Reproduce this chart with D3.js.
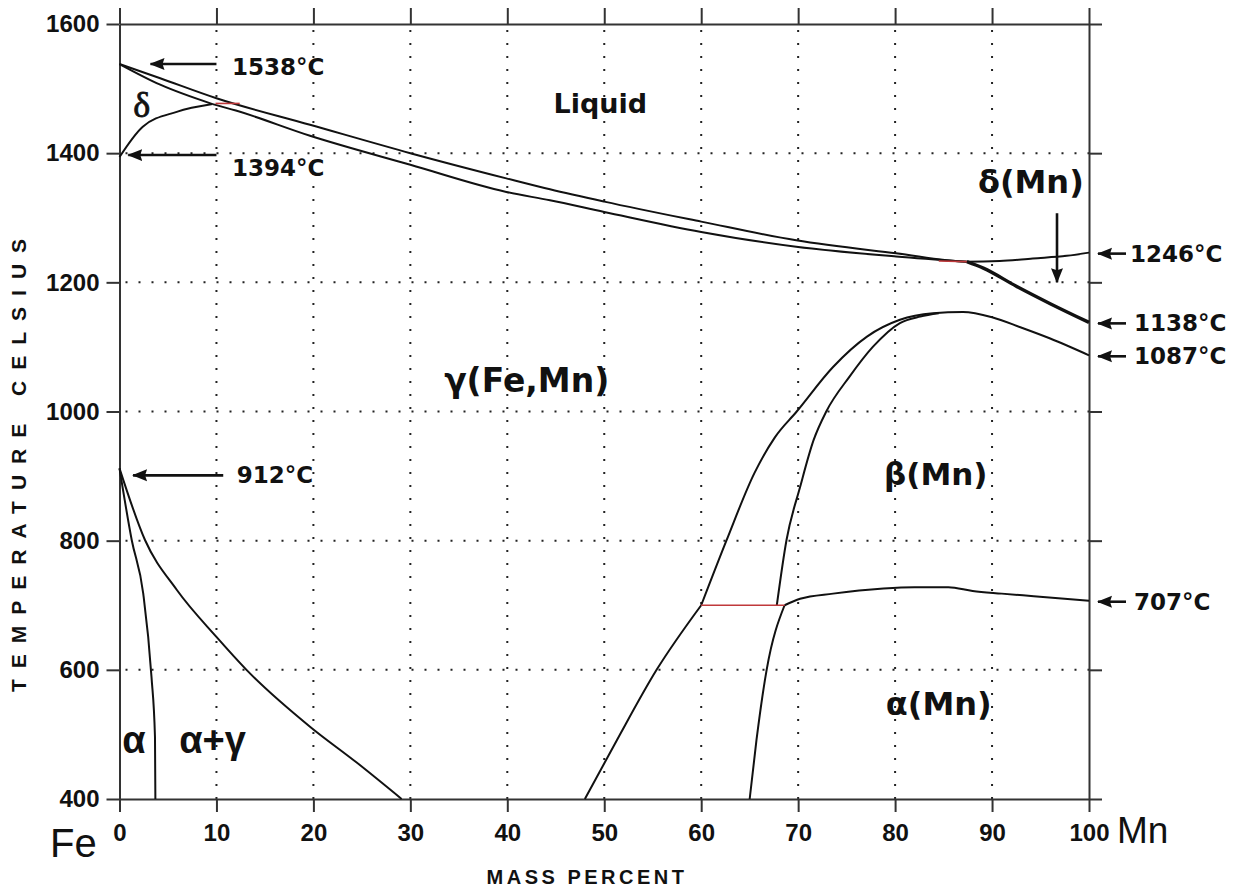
<!DOCTYPE html>
<html>
<head>
<meta charset="utf-8">
<script src="https://cdn.jsdelivr.net/npm/d3@7"></script>
<style>
  html, body { margin: 0; padding: 0; background: #fff; }
  svg { display: block; }
</style>
</head>
<body>
<svg id="chart" width="1241" height="893"></svg>
<script>
// Fe–Mn equilibrium phase diagram: [mass % Mn, temperature °C]

const xTicks = [0, 10, 20, 30, 40, 50, 60, 70, 80, 90, 100];
const yTicks = [400, 600, 800, 1000, 1200, 1400, 1600];

// liquidus, Fe side to Mn side
const liquidus = [[0,1538],[4.2,1516],[10,1485],[19.65,1444],[30,1400],[39.9,1361],[44.4,1344],[50,1325],[60,1294],[69.8,1265],[80.1,1245],[87.4,1232],[90.8,1233],[94.2,1237],[97.7,1241],[100,1246]];
// delta-Fe solidus
const deltaSolidus = [[0,1538],[4.2,1506],[9.6,1476]];
// delta / gamma boundary
const deltaGamma = [[0,1394],[2.4,1441],[5.9,1464],[9.6,1476]];
// gamma solidus
const gammaSolidus = [[9.6,1476],[12,1466],[19.65,1427],[30,1382],[39.9,1340],[44.4,1327],[50,1309],[60,1278],[69.8,1255],[80.1,1240],[87.4,1232]];
// delta-Mn solidus
const mnSolidus = [[87.4,1232],[89.1,1222],[92.5,1194],[96,1167],[100,1138]];
// gamma boundary below the eutectoid
const gammaLower = [[48,400],[51.3,491],[55.4,600],[60,700]];
// gamma / (gamma + beta) arch
const gammaArch = [[60,700],[62.6,800],[65.5,905],[67.6,960],[69.85,1000],[73.6,1069],[77.1,1116],[80.5,1142],[83.9,1152],[87,1154],[90,1146],[93,1130],[96,1113],[100,1087]];
// beta side boundary above the eutectoid
const betaArch = [[67.8,700],[68.8,801],[70.2,883],[71.6,956],[72.9,1000],[75.3,1054],[77.7,1100],[80.5,1137],[82.6,1147],[84.5,1152]];
// alpha-Mn side boundary below the eutectoid
const alphaMnLower = [[65,400],[65.7,491],[66.75,600],[68.6,700]];
// beta / alpha-Mn transition
const betaAlpha = [[68.6,700],[70.2,710],[73.6,718],[78.8,726],[82,728],[85.5,728],[88,722],[91,718],[94.3,714],[100,707]];
// alpha-Fe / (alpha + gamma)
const alphaFe = [[0,912],[1.26,801],[2.45,718],[3.3,589],[3.66,496],[3.7,400]];
// gamma / (alpha + gamma)
const gammaAlpha = [[0,912],[2.63,801],[5.9,724],[10,651],[13.1,600],[19.65,512],[24.5,456],[29.1,400]];

// invariant tie lines
const peritecticFe = [[9.9,1477],[12.4,1477]];
const eutectoid = [[60,700],[68.6,700]];
const peritecticMn = [[84.5,1233],[87.4,1232]];

// transformation temperatures of the pure elements
const leftTemps = [1538, 1394, 912];
const rightTemps = [1246, 1138, 1087, 707];

const svg = d3.select("#chart");
const x = d3.scaleLinear().domain([0, 100]).range([119.5, 1089]);
const y = d3.scaleLinear().domain([400, 1600]).range([799, 24]);

const axisColor = "#333";
const tickFont = "'Liberation Sans', Arial, sans-serif";
const labelFont = "'DejaVu Sans', Verdana, sans-serif";

// dotted grid
const grid = svg.append("g").attr("stroke", "#222").attr("stroke-width", 2).attr("stroke-dasharray", "2,11");
grid.selectAll("line.v").data(xTicks.slice(1, -1)).join("line")
  .attr("x1", d => x(d)).attr("x2", d => x(d))
  .attr("y1", y(1600) + 6).attr("y2", y(400));
grid.selectAll("line.h").data(yTicks.slice(1, -1)).join("line")
  .attr("y1", d => y(d)).attr("y2", d => y(d))
  .attr("x1", x(0) + 6).attr("x2", x(100));

// frame axes
function styleAxis(g) {
  g.selectAll("path.domain").attr("stroke", axisColor).attr("stroke-width", 2);
  g.selectAll(".tick line").attr("stroke", axisColor).attr("stroke-width", 2);
  g.selectAll(".tick text").attr("fill", "#111")
    .attr("font-family", tickFont).attr("font-weight", "bold").attr("font-size", 24);
}
svg.append("g").attr("transform", `translate(${x(0)},0)`)
  .call(d3.axisLeft(y).tickValues(yTicks).tickSize(13).tickSizeOuter(0).tickPadding(7).tickFormat(d3.format("d")))
  .call(styleAxis);
svg.append("g").attr("transform", `translate(${x(100)},0)`)
  .call(d3.axisRight(y).tickValues(yTicks).tickSize(13).tickSizeOuter(0).tickFormat(""))
  .call(styleAxis);
svg.append("g").attr("transform", `translate(0,${y(400)})`)
  .call(d3.axisBottom(x).tickValues(xTicks).tickSize(13).tickSizeOuter(0).tickPadding(12).tickFormat(d3.format("d")))
  .call(styleAxis);
svg.append("g").attr("transform", `translate(0,${y(1600)})`)
  .call(d3.axisTop(x).tickValues(xTicks).tickSize(16).tickSizeOuter(0).tickFormat(""))
  .call(styleAxis);

// phase boundaries
const line = d3.line().x(d => x(d[0])).y(d => y(d[1])).curve(d3.curveMonotoneX);
const boundaries = [liquidus, deltaSolidus, deltaGamma, gammaSolidus, gammaLower, gammaArch, betaArch, alphaMnLower, betaAlpha, alphaFe, gammaAlpha];
svg.append("g").attr("fill", "none").attr("stroke", "#111").attr("stroke-width", 2)
  .attr("stroke-linejoin", "round")
  .selectAll("path").data(boundaries).join("path").attr("d", line);
svg.append("path").datum(mnSolidus).attr("d", line)
  .attr("fill", "none").attr("stroke", "#111").attr("stroke-width", 3.4);

const straight = d3.line().x(d => x(d[0])).y(d => y(d[1]));
svg.append("g").attr("fill", "none").attr("stroke", "#c0393b").attr("stroke-width", 1.6)
  .selectAll("path").data([peritecticFe, eutectoid, peritecticMn]).join("path").attr("d", straight);

// arrow heads
svg.append("defs").append("marker")
  .attr("id", "head").attr("viewBox", "0 0 15 14").attr("refX", 14).attr("refY", 7)
  .attr("markerWidth", 15).attr("markerHeight", 14).attr("markerUnits", "userSpaceOnUse")
  .attr("orient", "auto")
  .append("path").attr("d", "M0,1 L15,7 L0,13 L2,7 Z").attr("fill", "#111");

const arrows = svg.append("g").attr("stroke", "#111").attr("stroke-width", 2.6);
const leftArrow = { 1538: [10, 3.2], 1394: [10, 0.9], 912: [10.7, 1.4] };
const leftShift = { 1538: 0, 1394: -2, 912: 7 };
leftTemps.forEach(t => {
  const [from, to] = leftArrow[t];
  arrows.append("line")
    .attr("x1", x(from)).attr("x2", x(to))
    .attr("y1", y(t) + leftShift[t]).attr("y2", y(t) + leftShift[t])
    .attr("marker-end", "url(#head)");
});
rightTemps.forEach(t => {
  arrows.append("line")
    .attr("x1", x(100) + 37).attr("x2", x(100) + 9)
    .attr("y1", y(t) + 1).attr("y2", y(t) + 1)
    .attr("marker-end", "url(#head)");
});
arrows.append("line")
  .attr("x1", x(96.7)).attr("x2", x(96.7))
  .attr("y1", y(1307)).attr("y2", y(1200))
  .attr("marker-end", "url(#head)");

// temperature labels
const tempText = svg.append("g").attr("font-family", labelFont).attr("font-weight", "bold")
  .attr("font-size", 23).attr("fill", "#111");
const leftLabelDy = { 1538: 11, 1394: 19, 912: 15 };
const leftLabelX = { 1538: 11.6, 1394: 11.6, 912: 12.1 };
leftTemps.forEach(t => {
  tempText.append("text").attr("x", x(leftLabelX[t])).attr("y", y(t) + leftLabelDy[t]).text(`${t}°C`);
});
rightTemps.forEach(t => {
  tempText.append("text").attr("x", x(100) + (t === 1246 ? 41 : 45)).attr("y", y(t) + 9).text(`${t}°C`);
});

// phase field labels
const phases = svg.append("g").attr("font-family", labelFont).attr("font-weight", "bold")
  .attr("fill", "#111").attr("text-anchor", "middle");
phases.append("text").attr("x", x(49.6)).attr("y", y(1462)).attr("font-size", 27).text("Liquid");
phases.append("text").attr("x", x(42)).attr("y", y(1030)).attr("font-size", 33).text("γ(Fe,Mn)");
phases.append("text").attr("x", x(84.2)).attr("y", y(886)).attr("font-size", 31).text("β(Mn)");
phases.append("text").attr("x", x(84.5)).attr("y", y(530)).attr("font-size", 32).text("α(Mn)");
phases.append("text").attr("x", x(94.0)).attr("y", y(1338)).attr("font-size", 32).text("δ(Mn)");

const greek = svg.append("g").attr("fill", "#111").attr("text-anchor", "middle");
greek.append("text").attr("x", x(2.3)).attr("y", y(1456)).attr("font-family", "'Liberation Serif', serif")
  .attr("font-size", 36).attr("stroke", "#111").attr("stroke-width", 0.8).text("δ");
greek.append("text").attr("x", x(1.5)).attr("y", y(471)).attr("font-family", tickFont)
  .attr("font-weight", "bold").attr("font-size", 38).text("α");
greek.append("text").attr("x", x(9.6)).attr("y", y(471)).attr("font-family", tickFont)
  .attr("font-weight", "bold").attr("font-size", 38).text("α+γ");

// element names at the axis ends
svg.append("text").attr("x", 50).attr("y", 857).attr("font-family", tickFont)
  .attr("font-size", 40).attr("fill", "#111").text("Fe");
svg.append("text").attr("x", 1117).attr("y", 843).attr("font-family", tickFont)
  .attr("font-size", 37).attr("fill", "#111").text("Mn");

// axis titles
svg.append("text").attr("x", 587).attr("y", 884).attr("text-anchor", "middle")
  .attr("font-family", tickFont).attr("font-weight", "bold").attr("font-size", 20)
  .attr("letter-spacing", 3.5).attr("fill", "#111").text("MASS PERCENT");
svg.append("text").attr("transform", "translate(26,460) rotate(-90)").attr("text-anchor", "middle")
  .attr("font-family", tickFont).attr("font-weight", "bold").attr("font-size", 21)
  .attr("letter-spacing", 11).attr("fill", "#111").text("TEMPERATURE CELSIUS");
</script>
</body>
</html>
